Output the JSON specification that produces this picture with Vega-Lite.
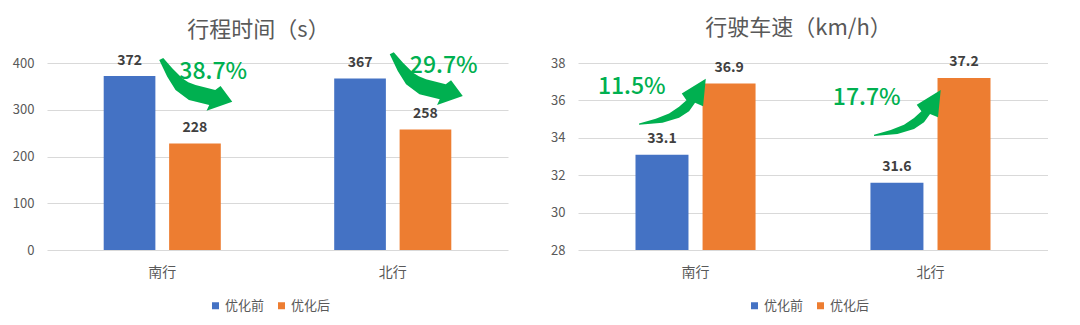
{
  "$schema": "https://vega.github.io/schema/vega-lite/v6.json",
  "background": "white",
  "padding": {"left": 9, "top": 17, "right": 0, "bottom": 0},
  "config": {
    "font": "Noto Sans CJK SC",
    "view": {"stroke": null},
    "axis": {"labelFont": "Noto Sans CJK SC", "labelColor": "#595959", "labelFontSize": 13, "ticks": false, "tickSize": 0, "domain": false, "gridColor": "#D9D9D9", "title": null, "labelOverlap": false},
    "axisX": {"labelPadding": 15, "labelFontSize": 14, "grid": false, "labelAngle": 0},
    "axisY": {"labelPadding": 13},
    "legend": {"orient": "none", "direction": "horizontal", "title": null, "symbolType": "square", "symbolSize": 49, "symbolStrokeWidth": 0, "labelFontSize": 13, "labelColor": "#595959", "labelFont": "Noto Sans CJK SC", "columnPadding": 10, "labelOffset": 3},
    "title": {"fontSize": 22, "fontWeight": "normal", "color": "#595959", "frame": "bounds", "anchor": "middle", "font": "Noto Sans CJK SC"}
  },
  "datasets": {
    "time": [
      {"cat": "南行", "period": "优化前", "value": 372, "change": "38.7%"},
      {"cat": "南行", "period": "优化后", "value": 228, "change": "38.7%"},
      {"cat": "北行", "period": "优化前", "value": 367, "change": "29.7%"},
      {"cat": "北行", "period": "优化后", "value": 258, "change": "29.7%"}
    ],
    "speed": [
      {"cat": "南行", "period": "优化前", "value": 33.1, "change": "11.5%"},
      {"cat": "南行", "period": "优化后", "value": 36.9, "change": "11.5%"},
      {"cat": "北行", "period": "优化前", "value": 31.6, "change": "17.7%"},
      {"cat": "北行", "period": "优化后", "value": 37.2, "change": "17.7%"}
    ]
  },
  "spacing": 41,
  "resolve": {"scale": {"x": "independent", "y": "independent", "color": "independent", "xOffset": "independent"}, "legend": {"color": "independent"}},
  "hconcat": [
    {
      "width": 461,
      "height": 187,
      "title": {"text": "行程时间（s）", "offset": 10},
      "data": {"name": "time"},
      "encoding": {
        "x": {"field": "cat", "type": "nominal", "sort": ["南行", "北行"], "scale": {"paddingInner": 0.492, "paddingOuter": 0.246}, "axis": {"title": null}}
      },
      "layer": [
        {
          "mark": {"type": "bar"},
          "encoding": {
            "xOffset": {"field": "period", "type": "nominal", "sort": ["优化前", "优化后"], "scale": {"paddingInner": 0.21, "paddingOuter": 0}},
            "y": {"field": "value", "type": "quantitative", "scale": {"domain": [0, 400], "nice": false}, "axis": {"values": [0, 100, 200, 300, 400], "tickCount": 5, "title": null, "minExtent": 38, "maxExtent": 38, "labelOverlap": false}},
            "color": {"field": "period", "type": "nominal", "sort": ["优化前", "优化后"], "scale": {"domain": ["优化前", "优化后"], "range": ["#4472C4", "#ED7D31"]}, "legend": {"legendX": 162, "legendY": 236}}
          }
        },
        {
          "mark": {"type": "text", "dy": -11, "baseline": "alphabetic", "align": "center", "fontWeight": "bold", "fontSize": 14, "color": "#404040"},
          "encoding": {
            "xOffset": {"field": "period", "type": "nominal", "sort": ["优化前", "优化后"]},
            "y": {"field": "value", "type": "quantitative"},
            "text": {"field": "value", "type": "quantitative"}
          }
        },
        {
          "mark": {"type": "point", "shape": "M 1 -51.75 L 10 -41.45 L 20 -31.45 L 26 -27.6 L 33.3 -24.75 L 53 -19.75 L 58.3 -23.75 L 70 -8 L 44.3 1 L 47 -4.75 L 26.7 -9.75 L 13.3 -19.75 L 5 -33 L -3 -49.75 Z", "size": 4, "filled": true, "color": "#00B050", "opacity": 1, "strokeWidth": 0},
          "encoding": {
            "y": {"aggregate": "mean", "field": "value", "type": "quantitative"}
          }
        },
        {
          "mark": {"type": "text", "dx": 51, "dy": -37.6, "baseline": "middle", "align": "center", "fontSize": 23, "fontWeight": 500, "color": "#00B050"},
          "encoding": {
            "y": {"aggregate": "mean", "field": "value", "type": "quantitative"},
            "text": {"field": "change", "type": "nominal"}
          }
        }
      ]
    },
    {
      "width": 470,
      "height": 187,
      "title": {"text": "行驶车速（km/h）", "offset": 15},
      "data": {"name": "speed"},
      "encoding": {
        "x": {"field": "cat", "type": "nominal", "sort": ["南行", "北行"], "scale": {"paddingInner": 0.489, "paddingOuter": 0.2447}, "axis": {"title": null}}
      },
      "layer": [
        {
          "mark": {"type": "bar", "clip": true},
          "encoding": {
            "xOffset": {"field": "period", "type": "nominal", "sort": ["优化前", "优化后"], "scale": {"paddingInner": 0.21, "paddingOuter": 0}},
            "y": {"field": "value", "type": "quantitative", "scale": {"domain": [28, 38], "nice": false, "zero": false}, "axis": {"values": [28, 30, 32, 34, 36, 38], "tickCount": 6, "title": null, "minExtent": 29, "maxExtent": 29, "labelOverlap": false}},
            "color": {"field": "period", "type": "nominal", "sort": ["优化前", "优化后"], "scale": {"domain": ["优化前", "优化后"], "range": ["#4472C4", "#ED7D31"]}, "legend": {"legendX": 170, "legendY": 236}}
          }
        },
        {
          "mark": {"type": "text", "dy": -11.5, "baseline": "alphabetic", "align": "center", "fontWeight": "bold", "fontSize": 14, "color": "#404040"},
          "encoding": {
            "xOffset": {"field": "period", "type": "nominal", "sort": ["优化前", "优化后"]},
            "y": {"field": "value", "type": "quantitative"},
            "text": {"field": "value", "type": "quantitative", "format": ".1f"}
          }
        },
        {
          "mark": {"type": "point", "shape": "M -56.45 4.35 L -39.75 -0.35 L -26.45 -5.65 L -16.45 -12.35 L -9.05 -18.95 L -13.75 -25.65 L 10.25 -40.35 L 7.55 -12.95 L -0.45 -16.35 L -6.45 -7.95 L -16.45 -1.35 L -33.05 3.65 L -56.45 5.65 Z", "size": 4, "filled": true, "color": "#00B050", "opacity": 1, "strokeWidth": 0},
          "encoding": {
            "y": {"aggregate": "mean", "field": "value", "type": "quantitative"}
          }
        },
        {
          "mark": {"type": "text", "dx": -63.75, "dy": -31.9, "baseline": "middle", "align": "center", "fontSize": 23, "fontWeight": 500, "color": "#00B050"},
          "encoding": {
            "y": {"aggregate": "mean", "field": "value", "type": "quantitative"},
            "text": {"field": "change", "type": "nominal"}
          }
        }
      ]
    }
  ]
}
